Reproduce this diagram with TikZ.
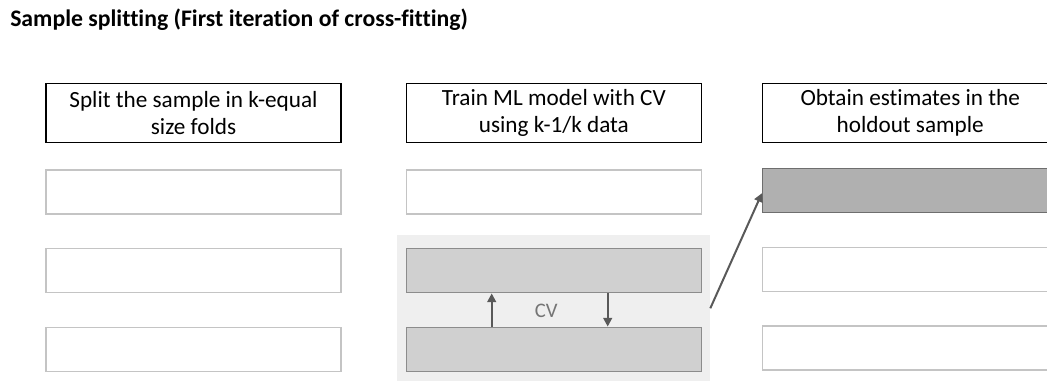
\documentclass[tikz,border=0pt]{standalone}
\usepackage{fontspec}
\setmainfont[Ligatures=NoCommon]{Carlito}
\usetikzlibrary{arrows.meta}
\definecolor{rowline}{HTML}{C4C4C4}
\definecolor{cvfill}{HTML}{D0D0D0}
\definecolor{cvline}{HTML}{8C8C8C}
\definecolor{bgfill}{HTML}{EFEFEF}
\definecolor{outfill}{HTML}{B0B0B0}
\definecolor{outline}{HTML}{6E6E6E}
\definecolor{arrowcol}{HTML}{595959}
\definecolor{cvtext}{HTML}{757575}
\tikzset{
  header/.style={draw=black, line width=0.8pt, fill=white, minimum width=221.25pt, minimum height=44.5pt, inner sep=0pt, align=center, font=\fontsize{17.4}{20}\selectfont},
  emptyrow/.style={draw=rowline, line width=1pt, fill=white, minimum width=221.25pt, minimum height=33pt, inner sep=0pt},
  cvrow/.style={draw=cvline, line width=0.9pt, fill=cvfill, minimum width=221.25pt, minimum height=33pt, inner sep=0pt},
  outrow/.style={draw=outline, line width=1.1pt, fill=outfill, minimum width=221.25pt, minimum height=33pt, inner sep=0pt},
  bgbox/.style={fill=bgfill, draw=none, minimum width=234.5pt, minimum height=109.5pt, inner sep=0pt},
  conn/.style={draw=arrowcol, line width=1.5pt, -{Triangle[length=6.5pt,width=6.5pt]}},
}
\begin{document}
\begin{tikzpicture}[x=0.75pt,y=-0.75pt]
\clip (0,0) rectangle (1047,381);
\useasboundingbox (0,0) rectangle (1047,381);
\node[anchor=base west, inner sep=0pt, font=\bfseries\fontsize{17.8}{20}\selectfont] (title) at (10,26.5) {Sample splitting (First iteration of cross-fitting)};

% column 1
\node[header] (h1) at (193.5,113) {Split the sample in k-equal\\size folds};
\node[emptyrow] (c1r1) at (193.5,192) {};
\node[emptyrow] (c1r2) at (193.5,270.8) {};
\node[emptyrow] (c1r3) at (193.5,349.2) {};

% column 2
\node[bgbox] (cvbg) at (553.7,308.3) {};
\node[header] (h2) at (553.85,113) {Train ML model with CV\\using k-1/k data};
\node[emptyrow] (c2r1) at (553.85,192) {};
\node[cvrow] (c2r2) at (553.85,270.8) {};
\node[cvrow] (c2r3) at (553.85,349.2) {};
\node[text=cvtext, font=\fontsize{15.5}{18}\selectfont, inner sep=0pt] (cv) at (546.3,310.7) {CV};
\coordinate (upx) at (491.7,0);
\coordinate (downx) at (607.7,0);
\draw[conn] (c2r3.north -| upx) -- (c2r2.south -| upx);
\draw[conn] (c2r2.south -| downx) -- (c2r3.north -| downx);

% column 3
\node[header] (h3) at (910.2,113) {Obtain estimates in the\\holdout sample};
\node[outrow] (c3r1) at (910.2,190.5) {};
\node[emptyrow] (c3r2) at (910.2,269.2) {};
\node[emptyrow] (c3r3) at (910.2,348) {};

\draw[conn] (cvbg.east) -- ([yshift=-2pt]c3r1.west);
\end{tikzpicture}
\end{document}
